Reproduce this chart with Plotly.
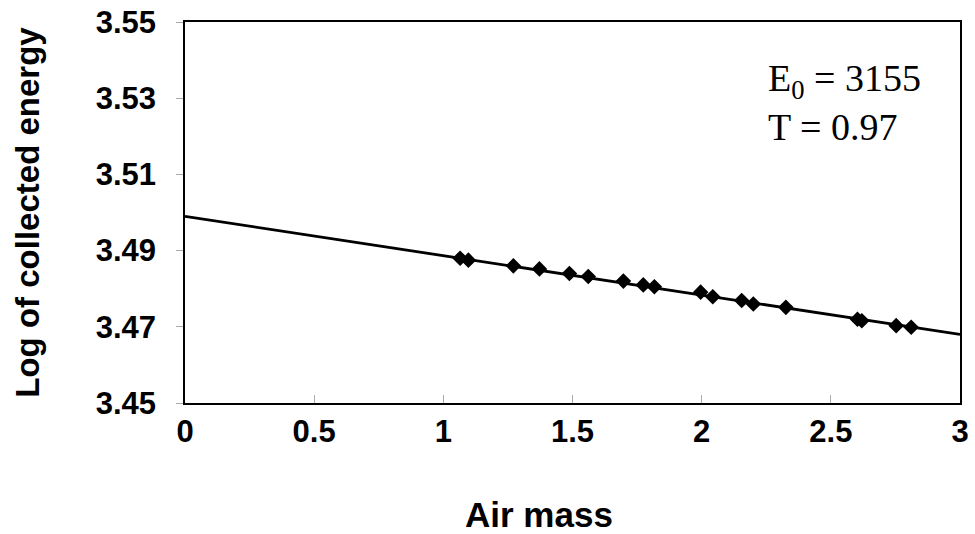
import plotly.graph_objects as go

# Measured air mass and log10 of collected energy
air_mass = [1.065, 1.097, 1.271, 1.372, 1.488, 1.561, 1.697, 1.774, 1.817,
            1.996, 2.043, 2.155, 2.200, 2.326, 2.603, 2.620, 2.753, 2.811]
log_energy = [3.4880, 3.4875, 3.4860, 3.4852, 3.4840, 3.4832, 3.4820, 3.4810, 3.4805,
              3.4791, 3.4779, 3.4769, 3.4760, 3.4751, 3.4720, 3.4716, 3.4703, 3.4699]

# Fitted Langley line, extrapolated to zero air mass
fit_x = [0.0, 3.0]
fit_y = [3.499, 3.468]

x_ticks = [0, 0.5, 1, 1.5, 2, 2.5, 3]
x_tick_text = ["0", "0.5", "1", "1.5", "2", "2.5", "3"]
y_ticks = [3.45, 3.47, 3.49, 3.51, 3.53, 3.55]
y_tick_text = ["3.45", "3.47", "3.49", "3.51", "3.53", "3.55"]

fig = go.Figure()
fig.add_trace(go.Scatter(x=fit_x, y=fit_y, mode="lines",
                         line=dict(color="black", width=2.8), showlegend=False))
fig.add_trace(go.Scatter(x=air_mass, y=log_energy, mode="markers",
                         marker=dict(symbol="diamond", size=12, color="black"),
                         showlegend=False))

tick_font = dict(family="Liberation Sans, Arial, sans-serif", size=31, color="black", weight="bold")
title_font = dict(family="Liberation Sans, Arial, sans-serif", size=33, color="black", weight="bold")
xtitle_font = dict(family="Liberation Sans, Arial, sans-serif", size=35, color="black", weight="bold")

fig.update_xaxes(range=[0, 3], tickvals=x_ticks, ticktext=x_tick_text,
                 showline=True, linecolor="black", linewidth=1.5, mirror=True,
                 ticks="inside", ticklen=8, tickcolor="#aaaaaa", tickwidth=1,
                 showgrid=False, zeroline=False, tickfont=tick_font,
                 ticklabelstandoff=0, automargin=False)
fig.update_yaxes(range=[3.45, 3.55], tickvals=y_ticks, ticktext=y_tick_text,
                 showline=True, linecolor="black", linewidth=1.5, mirror=True,
                 ticks="outside", ticklen=7, tickcolor="#aaaaaa", tickwidth=1,
                 showgrid=False, zeroline=False, tickfont=tick_font,
                 ticklabelstandoff=14, automargin=False,
                 title=dict(text="Log of collected energy", font=title_font, standoff=46))

# x-axis title, set slightly left of the plot centre
fig.add_annotation(x=0.457, y=-0.292, xref="paper", yref="paper",
                   xanchor="center", yanchor="middle", showarrow=False,
                   text="Air mass", font=xtitle_font)

fig.add_annotation(x=2.25, y=3.529, xref="x", yref="y", xanchor="left", yanchor="middle",
                   align="left", showarrow=False,
                   text="E<sub>0</sub> = 3155<br>T = 0.97",
                   font=dict(family="Liberation Serif, Times New Roman, serif", size=38, color="black"))

fig.update_layout(width=975, height=534, paper_bgcolor="white", plot_bgcolor="white",
                  margin=dict(l=185, r=15, t=22, b=131))

fig.write_html("out.html")
